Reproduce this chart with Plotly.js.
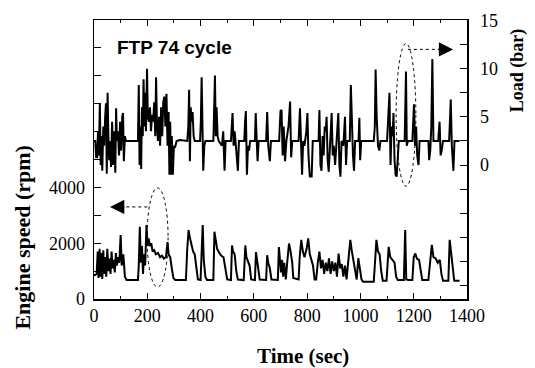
<!DOCTYPE html>
<html>
<head>
<meta charset="utf-8">
<script src="https://cdn.plot.ly/plotly-3.0.1.min.js"></script>
<style>html,body{margin:0;padding:0;background:#fff;}#chart{width:535px;height:368px;}</style>
</head>
<body>
<div id="chart"></div>
<script>
// Engine speed (rpm) vs time (sec)
var speedTime = [0,5,10,14,17,21,24,28,31,35,38,42,46,50,54,58,62,66,70,74,78,82,86,90,95,100,104,110,116,122,165,168,172,176,180,184,188,192,197,201,205,210,215,220,226,232,240,248,255,262,270,276,280,286,292,298,305,345,350,355,360,366,372,378,384,390,400,404,408,412,418,424,448,452,456,462,470,478,486,494,500,514,518,522,528,534,540,562,568,572,578,584,590,604,608,612,618,622,646,650,654,660,666,690,694,698,702,706,710,714,720,726,732,738,744,748,768,772,778,784,790,798,804,810,816,822,828,834,840,846,852,858,864,870,876,882,888,894,900,906,912,918,924,930,936,942,948,955,962,968,974,980,986,992,998,1004,1010,1050,1056,1060,1066,1072,1078,1084,1098,1102,1106,1112,1120,1128,1134,1140,1163,1168,1172,1180,1195,1200,1206,1212,1220,1226,1232,1255,1262,1268,1274,1282,1290,1298,1304,1310,1330,1335,1340,1346,1352,1372];
var speed = [860,860,900,1700,750,1800,800,1650,720,1750,900,1500,800,1800,1000,1450,900,1700,1100,1400,950,1650,1200,1500,1300,2290,1200,1600,800,680,680,1200,2590,1300,1900,900,1600,1200,2650,1900,2170,1900,2000,1700,1750,1600,1650,1500,1550,1450,1500,2040,1600,1500,1100,750,680,680,1800,2470,2200,1900,1700,1600,1200,700,680,1500,2650,1400,800,680,680,2410,2100,1800,1650,1550,1500,1100,700,680,1920,1700,1600,1000,700,680,1920,1500,1330,1200,700,680,1680,1400,1100,700,680,1570,1300,1100,700,680,1860,1500,950,1400,800,1300,700,1400,1990,1700,1300,750,700,1500,2120,1700,1500,1800,2170,1600,1400,1200,700,700,1300,1700,1100,1400,900,1300,1000,1460,900,1350,1000,1300,800,1630,1100,1250,800,1200,700,1500,2120,1700,1400,1100,700,1460,1000,700,620,620,1500,2120,1700,1600,1000,650,650,1500,1870,1500,1400,1300,800,680,680,2470,700,680,680,1500,1630,1450,1400,1000,680,680,1500,1940,1500,1460,1300,1400,900,650,650,2120,1700,1200,650,650];

// Load (bar) vs time (sec)
var loadTime = [0,5,8,12,15,18,22,25,28,31,35,38,42,45,48,51,54,57,60,64,68,72,76,80,83,86,90,94,98,102,106,109,112,116,120,165,168,171,174,177,180,183,186,189,192,195,199,202,206,210,214,218,222,226,230,233,236,240,244,248,252,256,260,264,268,272,276,280,283,286,289,292,296,300,304,310,322,350,354,357,360,363,366,370,374,378,398,401,404,407,410,414,418,448,451,454,457,460,464,468,480,485,490,494,514,517,520,524,528,534,540,544,564,567,570,574,578,582,586,604,607,610,614,618,646,650,654,660,664,695,700,704,708,712,717,722,730,736,740,744,768,773,777,781,785,790,797,801,805,810,817,821,843,846,850,854,858,862,866,870,873,877,881,885,889,892,896,900,905,910,914,917,921,925,929,936,942,946,950,960,964,968,972,976,980,993,996,999,1003,1011,1050,1054,1057,1061,1066,1071,1075,1100,1105,1109,1113,1117,1121,1124,1128,1132,1136,1140,1144,1166,1171,1174,1178,1195,1198,1201,1205,1209,1213,1218,1222,1255,1258,1262,1266,1270,1274,1280,1292,1297,1301,1305,1310,1333,1336,1339,1343,1349,1353,1372];
var load = [2.5,2.5,0.8,0.8,3.5,1.0,6.4,0.0,3.0,-0.6,4.0,2.0,5.0,6.4,-0.9,7.5,3.0,0.5,2.5,-0.2,4.5,0.0,3.5,-0.8,5.9,2.5,3.5,1.0,4.5,1.5,5.0,5.4,0.4,3.0,2.5,2.5,8.3,0.0,4.0,-0.4,6.0,3.0,8.9,4.0,7.5,3.5,10.0,5.0,4.5,6.0,3.5,5.2,4.5,6.5,3.0,9.1,4.5,2.5,5.0,2.0,6.0,3.0,6.5,7.1,4.0,7.4,2.0,5.5,-1.0,4.5,-1.0,3.0,-1.0,2.0,1.8,2.5,2.6,2.5,4.0,7.8,0.4,6.0,4.5,5.5,3.0,2.5,2.5,4.5,9.1,0.0,-0.6,2.0,2.5,2.5,5.0,9.3,3.0,6.0,3.0,2.5,2.0,3.5,-0.6,2.5,2.5,4.0,5.4,2.0,3.5,1.5,-0.6,2.5,2.5,4.5,5.6,-1.0,2.0,1.5,2.5,2.5,5.4,3.0,0.4,2.5,2.5,5.5,2.0,0.4,2.5,2.5,5.6,5.7,1.0,4.0,0.4,2.5,4.0,6.6,0.8,2.5,2.5,5.9,1.5,-1.0,2.5,2.0,3.5,5.4,1.0,-1.2,-1.2,2.5,2.5,5.7,0.0,-0.6,3.0,1.0,4.0,3.5,5.0,0.5,-0.7,2.0,4.0,5.4,1.0,2.0,0.0,2.5,4.5,5.4,0.0,-1.2,2.5,2.0,5.0,0.0,2.5,2.5,8.3,4.0,1.0,-0.6,2.5,2.5,4.9,0.5,2.5,2.5,2.5,4.0,9.9,5.0,2.0,1.5,2.5,2.5,5.0,7.5,0.0,4.0,3.0,5.4,0.5,-1.0,-1.2,1.0,2.5,2.5,9.7,2.0,2.5,2.5,4.0,6.3,2.0,4.0,1.0,0.0,2.5,2.5,0.5,1.5,4.0,11.0,2.5,2.5,2.5,4.5,1.0,1.5,2.5,2.5,4.0,6.8,2.0,-0.6,2.5,2.5];

var xTickVals = [0,200,400,600,800,1000,1200,1400];
var speedTickVals = [0,1000,2000,3000,4000,5000,6000,7000,8000,9000,10000];
var speedTickText = ['0','','2000','','4000','','','','','',''];
var loadTickVals = [-12.5,-10,-7.5,-5,-2.5,0,2.5,5,7.5,10,12.5,15];
var loadTickText = ['','','','','','0','','5','','10','','15'];

var serif = 'Liberation Serif, Times New Roman, serif';

var traces = [
  {x: speedTime, y: speed, type: 'scatter', mode: 'lines', xaxis: 'x', yaxis: 'y',
   line: {color: '#000', width: 2}, hoverinfo: 'skip'},
  {x: loadTime, y: load, type: 'scatter', mode: 'lines', xaxis: 'x', yaxis: 'y2',
   line: {color: '#000', width: 2}, hoverinfo: 'skip'}
];

var layout = {
  width: 535, height: 368,
  margin: {l: 94, r: 68, t: 20, b: 69},
  paper_bgcolor: '#fff', plot_bgcolor: '#fff',
  showlegend: false,
  font: {family: serif, size: 18, color: '#000'},
  xaxis: {
    range: [0, 1400], tickmode: 'array', tickvals: xTickVals,
    ticks: 'inside', ticklen: 6, tickwidth: 1, tickcolor: '#000',
    minor: {dtick: 100, ticks: 'inside', ticklen: 3, tickcolor: '#000'},
    showline: true, linecolor: '#000', linewidth: 1.5, mirror: 'ticks',
    showgrid: false, zeroline: false,
    tickfont: {family: serif, size: 18, color: '#000'}
  },
  yaxis: {
    range: [0, 10000], tickmode: 'array', tickvals: speedTickVals, ticktext: speedTickText,
    ticks: 'inside', ticklen: 7, tickwidth: 1, tickcolor: '#000',
    showline: true, linecolor: '#000', linewidth: 1.5,
    showgrid: false, zeroline: false, ticklabelstandoff: 4,
    tickfont: {family: serif, size: 18, color: '#000'}
  },
  yaxis2: {
    overlaying: 'y', side: 'right',
    range: [-13.9, 15.05], tickmode: 'array', tickvals: loadTickVals, ticktext: loadTickText,
    ticks: 'inside', ticklen: 7, tickwidth: 1, tickcolor: '#000',
    showline: true, linecolor: '#000', linewidth: 1.5,
    showgrid: false, zeroline: false, ticklabelstandoff: 8,
    tickfont: {family: serif, size: 18, color: '#000'}
  },
  shapes: [
    {type: 'circle', xref: 'x', yref: 'y', x0: 199, x1: 278, y0: 430, y1: 3980,
     line: {color: '#000', width: 1, dash: 'dot'}},
    {type: 'line', xref: 'x', yref: 'y', x0: 200, x1: 80, y0: 3300, y1: 3300,
     line: {color: '#000', width: 1, dash: 'dot'}},
    {type: 'circle', xref: 'x', yref: 'y2', x0: 1134, x1: 1208, y0: -2.2, y1: 12.6,
     line: {color: '#000', width: 1, dash: 'dot'}},
    {type: 'line', xref: 'x', yref: 'y2', x0: 1178, x1: 1325, y0: 12.0, y1: 12.0,
     line: {color: '#000', width: 1, dash: 'dot'}}
  ],
  annotations: [
    {xref: 'paper', yref: 'paper', x: 0.055, y: 0.9, xanchor: 'left', yanchor: 'middle',
     text: '<b>FTP 74 cycle</b>', showarrow: false,
     font: {family: 'Liberation Sans, Arial, sans-serif', size: 19, color: '#000'}},
    {xref: 'x', yref: 'y', x: 60, y: 3300, ax: 16, ay: 0, text: '', showarrow: true,
     arrowhead: 2, arrowsize: 2.2, arrowwidth: 1.3, arrowcolor: '#000'},
    {xref: 'x', yref: 'y2', x: 1348, y: 12.0, ax: -16, ay: 0, text: '', showarrow: true,
     arrowhead: 2, arrowsize: 2.2, arrowwidth: 1.3, arrowcolor: '#000'},
    {xref: 'paper', yref: 'paper', x: 0.56, y: 0, yshift: -57, xanchor: 'center', yanchor: 'middle',
     text: '<b>Time (sec)</b>', showarrow: false,
     font: {family: serif, size: 21, color: '#000'}},
    {xref: 'paper', yref: 'paper', x: 0, xshift: -71, y: 0.22, xanchor: 'center', yanchor: 'middle',
     text: '<b>Engine speed (rpm)</b>', textangle: -90, showarrow: false,
     font: {family: serif, size: 22, color: '#000'}},
    {xref: 'paper', yref: 'paper', x: 1, xshift: 50, y: 0.82, xanchor: 'center', yanchor: 'middle',
     text: '<b>Load (bar)</b>', textangle: -90, showarrow: false,
     font: {family: serif, size: 18, color: '#000'}}
  ]
};

Plotly.newPlot('chart', traces, layout, {displayModeBar: false, staticPlot: true});
</script>
</body>
</html>
